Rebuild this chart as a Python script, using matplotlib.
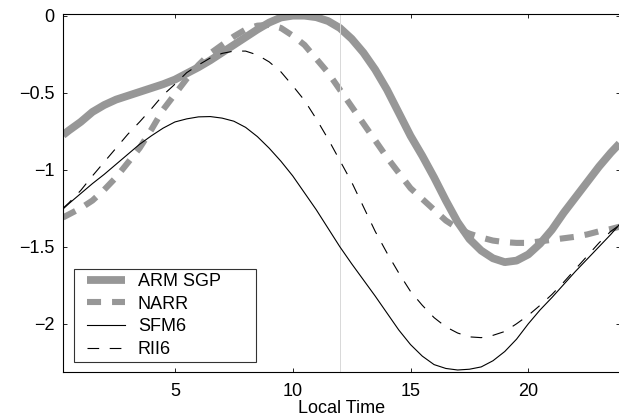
import matplotlib
matplotlib.use("Agg")
import matplotlib.pyplot as plt
from matplotlib.legend_handler import HandlerLine2D

plt.rcParams['font.family'] = ['Liberation Sans', 'DejaVu Sans']

# Local time (hours), half-hourly
hours = [0.25, 0.5, 1, 1.5, 2, 2.5, 3, 3.5, 4, 4.5, 5, 5.5, 6, 6.5, 7, 7.5, 8,
         8.5, 9, 9.5, 10, 10.5, 11, 11.5, 12, 12.5, 13, 13.5, 14, 14.5, 15,
         15.5, 16, 16.5, 17, 17.5, 18, 18.5, 19, 19.5, 20, 20.5, 21, 21.5, 22,
         22.5, 23, 23.5, 23.87]

arm_sgp = [-0.775, -0.745, -0.69, -0.625, -0.58, -0.545, -0.52, -0.495, -0.47,
           -0.445, -0.415, -0.375, -0.335, -0.29, -0.24, -0.19, -0.14, -0.09,
           -0.045, -0.012, 0.0, 0.0, -0.01, -0.035, -0.08, -0.15, -0.24,
           -0.35, -0.48, -0.63, -0.78, -0.91, -1.05, -1.20, -1.34, -1.45,
           -1.525, -1.575, -1.60, -1.59, -1.55, -1.48, -1.39, -1.28, -1.18,
           -1.08, -0.98, -0.89, -0.83]
narr = [-1.31, -1.29, -1.25, -1.20, -1.13, -1.05, -0.955, -0.86, -0.74, -0.61,
        -0.51, -0.41, -0.32, -0.245, -0.19, -0.135, -0.09, -0.065, -0.06,
        -0.08, -0.13, -0.19, -0.28, -0.37, -0.48, -0.59, -0.70, -0.81, -0.92,
        -1.02, -1.12, -1.19, -1.26, -1.33, -1.38, -1.415, -1.44, -1.46,
        -1.47, -1.475, -1.475, -1.465, -1.455, -1.445, -1.435, -1.42, -1.40,
        -1.385, -1.37]
sfm6 = [-1.255, -1.22, -1.155, -1.09, -1.03, -0.965, -0.90, -0.835, -0.78,
        -0.73, -0.69, -0.67, -0.657, -0.655, -0.665, -0.685, -0.725, -0.785,
        -0.86, -0.945, -1.04, -1.15, -1.26, -1.38, -1.50, -1.61, -1.715,
        -1.82, -1.93, -2.04, -2.135, -2.21, -2.265, -2.29, -2.30, -2.295,
        -2.28, -2.24, -2.18, -2.10, -2.00, -1.91, -1.83, -1.745, -1.66,
        -1.58, -1.50, -1.42, -1.355]
rii6 = [-1.25, -1.215, -1.135, -1.04, -0.95, -0.86, -0.77, -0.69, -0.605,
        -0.515, -0.445, -0.37, -0.32, -0.275, -0.245, -0.23, -0.23, -0.255,
        -0.30, -0.365, -0.455, -0.55, -0.67, -0.80, -0.94, -1.08, -1.24,
        -1.40, -1.54, -1.67, -1.79, -1.88, -1.96, -2.02, -2.06, -2.085,
        -2.09, -2.075, -2.05, -2.00, -1.945, -1.88, -1.81, -1.73, -1.645,
        -1.56, -1.475, -1.40, -1.36]

x_ticks = [5, 10, 15, 20]
y_ticks = [0, -0.5, -1, -1.5, -2]
y_tick_labels = ['0', '\u22120.5', '\u22121', '\u22121.5', '\u22122']
marker_hour = 12

gray = '#979797'
fs = 13

fig = plt.figure(figsize=(6.19, 4.17), dpi=100)
ax = fig.add_axes([63 / 619, 1 - 372 / 417, 556.5 / 619, 358.5 / 417])

ax.plot(hours, arm_sgp, color=gray, lw=5.6, solid_capstyle='butt',
        solid_joinstyle='round', label='ARM SGP', zorder=2)
ax.plot(hours, narr, color=gray, lw=4.4, linestyle=(0, (2.3, 1.8)),
        dash_capstyle='butt', label='NARR', zorder=2)
ax.axvline(marker_hour, color='#d8d8d8', lw=0.7, zorder=2.5)
ax.plot(hours, sfm6, color='black', lw=0.8, label='SFM6', zorder=3)
ax.plot(hours, rii6, color='black', lw=0.8, linestyle=(0, (10.5, 9.5)),
        label='RII6', zorder=3)

ax.set_xlim(0.25, 23.87)
ax.set_ylim(-2.313, 0.014)
ax.set_xticks(x_ticks)
ax.set_yticks(y_ticks)
ax.set_yticklabels(y_tick_labels)
ax.tick_params(direction='in', length=3, width=0.6, top=True, right=True,
               labelsize=fs, pad=6)
ax.tick_params(axis='x', pad=8)
for sp in ax.spines.values():
    sp.set_linewidth(0.8)

ax.set_xlabel('Local Time', fontsize=fs, labelpad=0)

leg = ax.legend(loc='lower left',
                bbox_to_anchor=(11 / 556.5, 10 / 358.5, 182 / 556.5, 89 / 358.5),
                mode='expand', borderaxespad=0,
                fontsize=fs, frameon=True, fancybox=False, edgecolor='black',
                handlelength=2.6, handletextpad=0.72, labelspacing=0.32,
                borderpad=0.21,
                handler_map={matplotlib.lines.Line2D: HandlerLine2D(xpad=0.5)})
leg.get_frame().set_linewidth(0.8)

fig.savefig('out.png', dpi=100)
